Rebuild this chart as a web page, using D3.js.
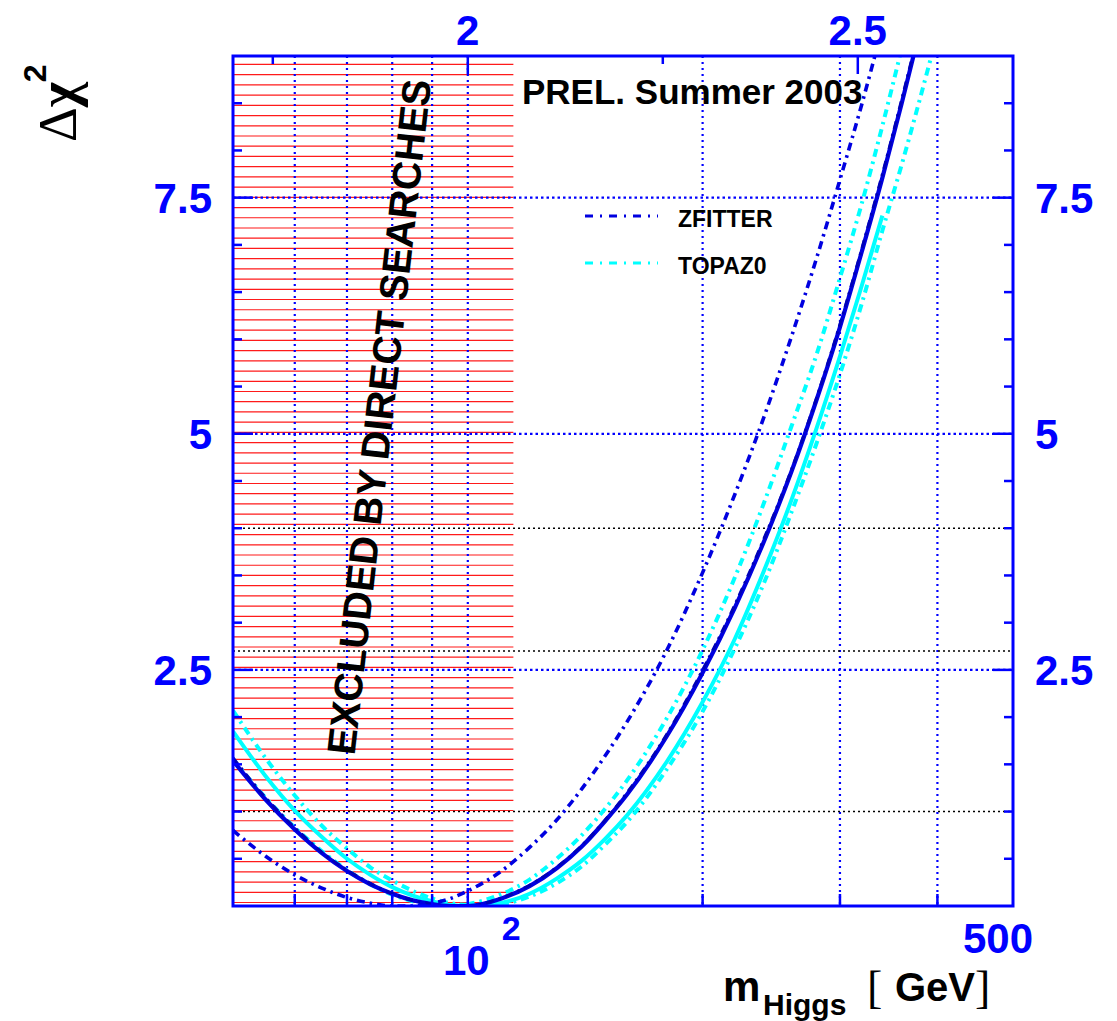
<!DOCTYPE html>
<html>
<head>
<meta charset="utf-8">
<script src="https://cdn.jsdelivr.net/npm/d3@7"></script>
<style>
  html, body { margin: 0; padding: 0; background: #fff; }
  svg { display: block; }
  text { font-family: "Liberation Sans", Arial, sans-serif; font-weight: bold; }
</style>
</head>
<body>
<div id="chart"></div>
<script>
'use strict';

const masses = [50, 55, 60, 65, 70, 75, 80, 85, 90, 95, 100, 110, 120, 130, 140, 150, 160,
  180, 200, 220, 240, 260, 280, 300, 320, 340, 360, 380, 400];

// delta chi^2 curves, one value per mass above (shorter arrays end earlier)
const zfitterCentral = [1.54, 1.13, 0.81, 0.56, 0.37, 0.23, 0.13, 0.06, 0.02, 0.00, 0.00, 0.075, 0.21,
  0.40, 0.63, 0.90, 1.18, 1.80, 2.47, 3.16, 3.87, 4.60, 5.36, 6.13, 6.93, 7.71, 8.50, 9.28];
const zfitterAlt = [1.57, 1.15, 0.83, 0.57, 0.38, 0.24, 0.13, 0.06, 0.02, 0.00, 0.00, 0.08, 0.22,
  0.41, 0.64, 0.91, 1.20, 1.82, 2.50, 3.19, 3.90, 4.62, 5.38, 6.16, 6.96, 7.75, 8.54, 9.32];
const zfitterLow = [0.80, 0.53, 0.33, 0.19, 0.09, 0.03, 0.00, 0.00, 0.03, 0.08, 0.16, 0.36, 0.62,
  0.91, 1.24, 1.59, 1.95, 2.71, 3.53, 4.36, 5.19, 6.03, 6.86, 7.69, 8.49, 9.30];
const topazCentral = [1.85, 1.38, 1.01, 0.73, 0.50, 0.33, 0.20, 0.11, 0.05, 0.01, 0.00, 0.03, 0.13,
  0.29, 0.48, 0.71, 0.96, 1.53, 2.16, 2.83, 3.56, 4.30, 5.06, 5.82, 6.57, 7.31];
const topazLow = [1.55, 1.15, 0.83, 0.58, 0.38, 0.23, 0.12, 0.05, 0.01, 0.00, 0.02, 0.12, 0.28,
  0.50, 0.75, 1.03, 1.33, 1.99, 2.71, 3.48, 4.28, 5.08, 5.84, 6.65, 7.44, 8.26, 9.08];
const topazHigh = [2.07, 1.57, 1.17, 0.85, 0.61, 0.41, 0.27, 0.16, 0.08, 0.03, 0.01, 0.02, 0.10,
  0.24, 0.42, 0.65, 0.89, 1.45, 2.06, 2.73, 3.43, 4.17, 4.90, 5.63, 6.38, 7.15, 7.85, 8.55, 9.24];

// axes
const massDomain = [50, 500];
const chi2Domain = [0, 9];
const massGridLines = [60, 70, 80, 90, 100, 200, 300, 400];
const chi2GridLines = [2.5, 5, 7.5];
const clLevels = [1, 2.7, 4];
const chi2Labels = ['2.5', '5', '7.5'];
const log10Ticks = [1.75, 2, 2.25, 2.5];
const log10Labels = ['2', '2.5'];
const excludedBelow = 114.4;

const legendEntries = ['ZFITTER', 'TOPAZ0'];

const WIDTH = 1117, HEIGHT = 1021;
const PLOT = { left: 233, right: 1013, top: 56, bottom: 906 };
const BLUE = '#0000ff';
const LINE_BLUE = '#0000e0';
const CYAN = '#00ffff';
const DASHDOT = '8,5,2.5,5';

const svg = d3.select('#chart').append('svg')
  .attr('width', WIDTH)
  .attr('height', HEIGHT);

svg.append('rect').attr('width', WIDTH).attr('height', HEIGHT).attr('fill', '#fff');

const x = d3.scaleLog().domain(massDomain).range([PLOT.left, PLOT.right]);
const xTop = d3.scaleLinear().domain(massDomain.map(Math.log10)).range([PLOT.left, PLOT.right]);
const y = d3.scaleLinear().domain(chi2Domain).range([PLOT.bottom, PLOT.top]);

svg.append('clipPath').attr('id', 'plot-clip')
  .append('rect')
  .attr('x', PLOT.left).attr('y', PLOT.top)
  .attr('width', PLOT.right - PLOT.left).attr('height', PLOT.bottom - PLOT.top);

// excluded region: horizontal red hatching
const hatch = svg.append('g').attr('class', 'hatch');
const hatchStep = 10.22;
d3.range(PLOT.bottom - 3.5, PLOT.top + 4, -hatchStep).forEach((yy) => {
  hatch.append('line')
    .attr('x1', x(massDomain[0])).attr('x2', x(excludedBelow))
    .attr('y1', yy).attr('y2', yy)
    .attr('stroke', '#ff1a1a').attr('stroke-width', 1.2);
});

// grid
const grid = svg.append('g').attr('class', 'grid');
grid.selectAll('.vgrid').data(massGridLines).enter().append('line')
  .attr('x1', (d) => x(d)).attr('x2', (d) => x(d))
  .attr('y1', PLOT.top).attr('y2', PLOT.bottom)
  .attr('stroke', BLUE).attr('stroke-width', 2.2).attr('stroke-dasharray', '2,4');
grid.selectAll('.hgrid').data(chi2GridLines).enter().append('line')
  .attr('x1', PLOT.left).attr('x2', PLOT.right)
  .attr('y1', (d) => y(d)).attr('y2', (d) => y(d))
  .attr('stroke', BLUE).attr('stroke-width', 2.2).attr('stroke-dasharray', '2.5,3');
grid.selectAll('.cl').data(clLevels).enter().append('line')
  .attr('x1', PLOT.left).attr('x2', PLOT.right)
  .attr('y1', (d) => y(d)).attr('y2', (d) => y(d))
  .attr('stroke', '#000').attr('stroke-width', 1.4).attr('stroke-dasharray', '2,3');

// curves
const line = d3.line()
  .x((d) => x(d[0]))
  .y((d) => y(d[1]))
  .curve(d3.curveMonotoneX);

function series(values) {
  return values.map((v, i) => [masses[i], v]);
}

const curves = [
  { values: topazHigh, color: CYAN, width: 4, dash: DASHDOT },
  { values: topazLow, color: CYAN, width: 4, dash: DASHDOT },
  { values: topazCentral, color: CYAN, width: 4, dash: null },
  { values: zfitterCentral, color: LINE_BLUE, width: 4.2, dash: null },
  { values: zfitterAlt, color: '#0000b8', width: 3, dash: DASHDOT },
  { values: zfitterLow, color: LINE_BLUE, width: 3.6, dash: DASHDOT },
];

const curveG = svg.append('g').attr('clip-path', 'url(#plot-clip)');
curves.forEach((c) => {
  curveG.append('path')
    .datum(series(c.values))
    .attr('d', line)
    .attr('fill', 'none')
    .attr('stroke', c.color)
    .attr('stroke-width', c.width)
    .attr('stroke-dasharray', c.dash);
});

// frame
svg.append('rect')
  .attr('x', PLOT.left).attr('y', PLOT.top)
  .attr('width', PLOT.right - PLOT.left).attr('height', PLOT.bottom - PLOT.top)
  .attr('fill', 'none').attr('stroke', BLUE).attr('stroke-width', 3);

// ticks
const ticks = svg.append('g').attr('stroke', BLUE).attr('stroke-width', 2.5);
d3.range(0.5, chi2Domain[1], 0.5).forEach((v) => {
  const len = (v % 2.5 === 0) ? 20 : 9;
  ticks.append('line').attr('x1', PLOT.left).attr('x2', PLOT.left + len)
    .attr('y1', y(v)).attr('y2', y(v));
  ticks.append('line').attr('x1', PLOT.right).attr('x2', PLOT.right - len)
    .attr('y1', y(v)).attr('y2', y(v));
});
massGridLines.forEach((m) => {
  const len = m === 100 ? 18 : 12;
  ticks.append('line').attr('x1', x(m)).attr('x2', x(m))
    .attr('y1', PLOT.bottom).attr('y2', PLOT.bottom - len);
});
log10Ticks.forEach((t) => {
  const len = log10Labels.includes(String(t)) ? 18 : 8;
  ticks.append('line').attr('x1', xTop(t)).attr('x2', xTop(t))
    .attr('y1', PLOT.top).attr('y2', PLOT.top + len);
});

// tick labels
const labels = svg.append('g').attr('fill', BLUE).style('font-size', '42px');
chi2Labels.forEach((s) => {
  labels.append('text').attr('x', 212).attr('y', y(+s) + 15)
    .attr('text-anchor', 'end').text(s);
  labels.append('text').attr('x', 1035).attr('y', y(+s) + 15)
    .attr('text-anchor', 'start').text(s);
});
log10Labels.forEach((s) => {
  labels.append('text').attr('x', xTop(+s)).attr('y', 45)
    .attr('text-anchor', 'middle').text(s);
});
const pow = labels.append('text').attr('x', 443).attr('y', 975);
pow.append('tspan').text('10');
pow.append('tspan').attr('dx', 12).attr('dy', -35).style('font-size', '34px').text('2');
labels.append('text').attr('x', 1033).attr('y', 953)
  .attr('text-anchor', 'end').text(massDomain[1]);

// axis titles
const yTitle = svg.append('text')
  .attr('transform', 'translate(76,142) rotate(-90)')
  .attr('fill', '#000');
yTitle.append('tspan')
  .style('font-family', '"Liberation Serif", "DejaVu Serif", serif')
  .style('font-weight', 'normal').style('font-size', '54px')
  .text('\u0394');
yTitle.append('tspan')
  .style('font-family', '"Liberation Serif", "DejaVu Serif", serif')
  .style('font-weight', 'bold').style('font-size', '54px')
  .text('\u03c7');
yTitle.append('tspan').attr('dy', -30).style('font-size', '32px').text('2');

const xTitle = svg.append('g').attr('fill', '#000');
xTitle.append('text').attr('x', 723).attr('y', 1001).style('font-size', '42px').text('m');
xTitle.append('text').attr('x', 763).attr('y', 1015).style('font-size', '30px').text('Higgs');
xTitle.append('text').attr('x', 867).attr('y', 1003)
  .style('font-family', '"Liberation Serif", serif').style('font-weight', 'normal')
  .style('font-size', '46px').text('[');
xTitle.append('text').attr('x', 895).attr('y', 1001).style('font-size', '40px').text('GeV');
xTitle.append('text').attr('x', 975).attr('y', 1003)
  .style('font-family', '"Liberation Serif", serif').style('font-weight', 'normal')
  .style('font-size', '46px').text(']');

// annotations
svg.append('text')
  .attr('transform', 'translate(379,417) rotate(-83.5)')
  .attr('text-anchor', 'middle')
  .attr('dominant-baseline', 'central')
  .style('font-size', '40px')
  .attr('fill', '#000')
  .text('EXCLUDED BY DIRECT SEARCHES');

svg.append('text')
  .attr('x', 522).attr('y', 104)
  .style('font-size', '35px')
  .attr('fill', '#000')
  .text('PREL. Summer 2003');

// legend
const legend = svg.append('g');
const legendColors = [LINE_BLUE, CYAN];
legendEntries.forEach((name, i) => {
  const ly = 216 + i * 47;
  legend.append('line')
    .attr('x1', 585).attr('x2', 658).attr('y1', ly).attr('y2', ly)
    .attr('stroke', legendColors[i]).attr('stroke-width', 2.8)
    .attr('stroke-dasharray', '8,7,2,7');
  legend.append('text')
    .attr('x', 678).attr('y', ly + 11)
    .style('font-size', '23px')
    .attr('fill', '#000')
    .text(name);
});
</script>
</body>
</html>
